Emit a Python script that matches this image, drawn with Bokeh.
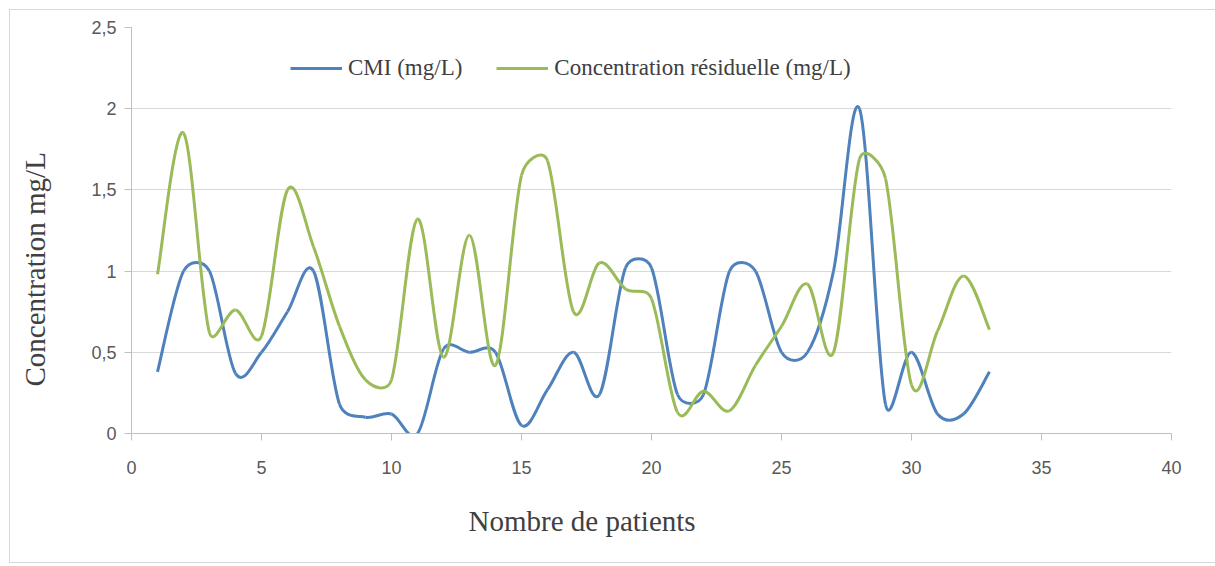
import numpy as np
from bokeh.plotting import figure
from bokeh.models import (ColumnDataSource, Legend, LegendItem, CustomJSTickFormatter, FixedTicker,
                          LinearAxis, Title)
from bokeh.embed import file_html
from bokeh.resources import INLINE

patients = list(range(1, 34))
cmi = [0.38, 1.0, 1.0, 0.37, 0.5, 0.75, 1.0, 0.18, 0.1, 0.12, 0.0, 0.52, 0.5, 0.5, 0.05,
       0.27, 0.5, 0.24, 1.02, 1.02, 0.24, 0.24, 1.0, 1.0, 0.5, 0.5, 1.0, 2.0, 0.18, 0.5,
       0.12, 0.12, 0.38]
residuelle = [0.98, 1.85, 0.62, 0.76, 0.6, 1.5, 1.15, 0.66, 0.33, 0.33, 1.32, 0.47, 1.22,
              0.42, 1.59, 1.68, 0.75, 1.05, 0.89, 0.83, 0.13, 0.26, 0.14, 0.42, 0.66, 0.92,
              0.5, 1.69, 1.57, 0.3, 0.63, 0.97, 0.64]
x_ticks = [0, 5, 10, 15, 20, 25, 30, 35, 40]
y_ticks = [0, 0.5, 1, 1.5, 2, 2.5]
series_names = ["CMI (mg/L)", "Concentration résiduelle (mg/L)"]
x_title = "Nombre de patients"
y_title = "Concentration mg/L"
colors = ["#4f81bd", "#9bbb59"]

FRAME_W, FRAME_H = 1040, 406
X_RANGE, Y_RANGE = (0, 40), (0, 2.5)
SX = FRAME_W / (X_RANGE[1] - X_RANGE[0])
SY = FRAME_H / (Y_RANGE[1] - Y_RANGE[0])


def bezier_source(xs, ys):
    """Excel-style smoothed line: Catmull-Rom tangents, arms capped at half the chord."""
    P = np.column_stack([np.array(xs, float) * SX, np.array(ys, float) * SY])
    n = len(P)
    rows = {k: [] for k in ["x0", "y0", "x1", "y1", "cx0", "cy0", "cx1", "cy1"]}
    for i in range(n - 1):
        p1, p2 = P[i], P[i + 1]
        p0 = P[i - 1] if i > 0 else p1
        p3 = P[i + 2] if i + 2 < n else p2
        half = np.linalg.norm(p2 - p1) / 2
        t1 = (p2 - p0) / 6
        t2 = (p3 - p1) / 6
        for t in (t1, t2):
            L = np.linalg.norm(t)
            if L > half and L > 0:
                t *= half / L
        c1 = p1 + t1
        c2 = p2 - t2
        rows["x0"].append(p1[0] / SX); rows["y0"].append(p1[1] / SY)
        rows["x1"].append(p2[0] / SX); rows["y1"].append(p2[1] / SY)
        rows["cx0"].append(c1[0] / SX); rows["cy0"].append(c1[1] / SY)
        rows["cx1"].append(c2[0] / SX); rows["cy1"].append(c2[1] / SY)
    return ColumnDataSource(rows)


p = figure(frame_width=FRAME_W, frame_height=FRAME_H, min_border_left=121, min_border_right=44,
           min_border_top=17, min_border_bottom=128, x_range=X_RANGE, y_range=Y_RANGE,
           output_backend="svg", toolbar_location=None,
           styles={"border": "1px solid #d9d9d9", "margin-left": "9px", "margin-top": "9px"})
p.outline_line_color = None
p.background_fill_color = "white"

renderers = []
for ys, c in zip([cmi, residuelle], colors):
    src = bezier_source(patients, ys)
    r = p.bezier(x0="x0", y0="y0", x1="x1", y1="y1", cx0="cx0", cy0="cy0", cx1="cx1", cy1="cy1",
                 source=src, line_color=c, line_width=3)
    renderers.append(r)

legend = Legend(items=[LegendItem(label=series_names[i], renderers=[renderers[i]]) for i in range(2)],
                orientation="horizontal", location=(159, 352), border_line_color=None,
                background_fill_alpha=0, glyph_width=52, label_standoff=6, spacing=34,
                label_text_font="Liberation Serif", label_text_font_size="23px",
                label_text_color="#404040")
p.add_layout(legend, "center")

p.xgrid.grid_line_color = None
p.ygrid.grid_line_color = "#d9d9d9"
p.ygrid.grid_line_width = 1

p.xaxis.ticker = FixedTicker(ticks=x_ticks)
p.yaxis.ticker = FixedTicker(ticks=y_ticks)
p.yaxis.formatter = CustomJSTickFormatter(code="return tick.toString().replace('.', ',');")
for ax in [p.xaxis[0], p.yaxis[0]]:
    ax.axis_line_color = "#bfbfbf"
    ax.major_tick_line_color = "#bfbfbf"
    ax.minor_tick_line_color = None
    ax.major_tick_in = 0
    ax.major_tick_out = 7
    ax.major_label_text_font = "Liberation Sans"
    ax.major_label_text_font_size = "18px"
    ax.major_label_text_color = "#595959"
p.xaxis.major_label_standoff = 20
p.yaxis.major_label_standoff = 8

# blank spacer between the y axis and its title (one invisible tick, empty label)
spacer = LinearAxis(ticker=FixedTicker(ticks=[y_ticks[0]]), axis_line_color=None,
                    major_tick_line_color=None, minor_tick_line_color=None, major_tick_in=0,
                    major_tick_out=33, major_label_text_font_size="0px", major_label_standoff=0,
                    formatter=CustomJSTickFormatter(code="return '';"))
p.add_layout(spacer, "left")

title_style = dict(text_font="Liberation Serif", text_font_size="29px", text_font_style="normal",
                   text_color="#404040", align="left")
p.add_layout(Title(text=x_title, offset=337, standoff=52, **title_style), "below")
p.add_layout(Title(text=y_title, offset=47, standoff=10, **title_style), "left")

open("out.html", "w").write(file_html(p, INLINE))
